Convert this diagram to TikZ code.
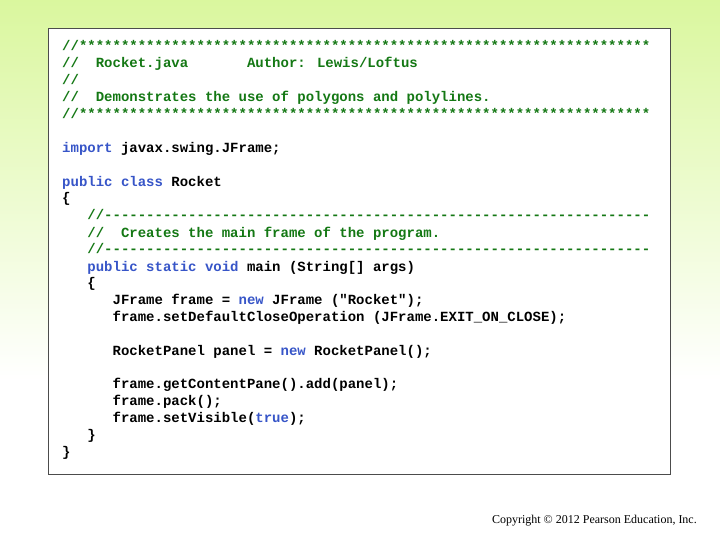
\documentclass[tikz,border=0pt]{standalone}
\usepackage{fontspec}
\setmainfont{Liberation Serif}
\newfontfamily\codefont{Liberation Mono}
\definecolor{cmt}{RGB}{20,120,20}
\definecolor{kw}{RGB}{55,85,200}
\definecolor{bgtop}{RGB}{218,247,158}
\newcommand{\K}[1]{\textcolor{kw}{#1}}
\newcommand{\C}[1]{\textcolor{cmt}{#1}}
\begin{document}
\begin{tikzpicture}[x=1pt,y=-1pt,
  code/.style={anchor=base west,inner sep=0pt,font=\codefont\bfseries\fontsize{14}{16}\selectfont}]
\useasboundingbox (0,0) rectangle (720,540);
\shade[top color=bgtop,bottom color=white] (0,0) rectangle (720,380);
\fill[white] (0,380) rectangle (720,540);
\node[draw=black!70,line width=0.8pt,fill=white,minimum width=622pt,minimum height=446pt,anchor=north west,inner sep=0pt] (box) at (48,28) {};
\def\cw{8.4}
\newcommand{\Ln}[4]{\node[code] (#1) at ({62+#2*\cw},{#3+5}) {#4};}
\Ln{l1}{0}{46}{\C{//********************************************************************}}
\Ln{l2}{0}{63}{\C{//\ \ Rocket.java}}
\Ln{l2b}{22}{63}{\C{Author: Lewis/Loftus}}
\Ln{l3}{0}{80}{\C{//}}
\Ln{l4}{0}{97}{\C{//\ \ Demonstrates the use of polygons and polylines.}}
\Ln{l5}{0}{114}{\C{//********************************************************************}}
\Ln{l6}{0}{148}{\K{import} javax.swing.JFrame;}
\Ln{l7}{0}{182}{\K{public class} Rocket}
\Ln{l8}{0}{198}{\{}
\Ln{l9}{3}{215}{\C{//-----------------------------------------------------------------}}
\Ln{l10}{3}{232}{\C{//\ \ Creates the main frame of the program.}}
\Ln{l11}{3}{249}{\C{//-----------------------------------------------------------------}}
\Ln{l12}{3}{266}{\K{public static void} main (String[] args)}
\Ln{l13}{3}{282}{\{}
\Ln{l14}{6}{299}{JFrame frame = \K{new} JFrame ("Rocket");}
\Ln{l15}{6}{316}{frame.setDefaultCloseOperation (JFrame.EXIT\_ON\_CLOSE);}
\Ln{l16}{6}{350}{RocketPanel panel = \K{new} RocketPanel();}
\Ln{l17}{6}{383}{frame.getContentPane().add(panel);}
\Ln{l18}{6}{400}{frame.pack();}
\Ln{l19}{6}{417}{frame.setVisible(\K{true});}
\Ln{l20}{3}{434}{\}}
\Ln{l21}{0}{451}{\}}
\node[anchor=east,inner sep=0pt,font=\fontsize{12}{14}\selectfont] (copy) at (697,521) {Copyright © 2012 Pearson Education, Inc.};
\end{tikzpicture}
\end{document}
